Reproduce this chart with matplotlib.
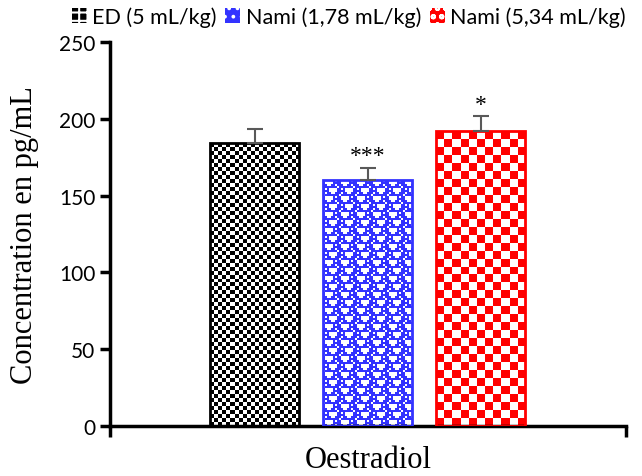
import numpy as np
import matplotlib
matplotlib.use('Agg')
import matplotlib.pyplot as plt
from matplotlib.patches import Patch

groups = ['ED (5 mL/kg)', 'Nami (1,78 mL/kg)', 'Nami (5,34 mL/kg)']
values = [184, 160, 192]
errors = [9, 8, 9.5]
stars = ['', '***', '*']
category = 'Oestradiol'
yticks = [0, 50, 100, 150, 200, 250]

colors = ['#000000', '#3333ff', '#ff0000']
cells = [4, 2, 8]   # pattern cell size in pixels

# blue "weave" tile, '#' = coloured
blue_tile = ["#....#.#",
             "#....###",
             "##..##.#",
             "#######.",
             "#.#....#",
             "###....#",
             "#.##..##",
             ".#######"]
blue_tile = np.array([[c == '#' for c in row] for row in blue_tile])


def pattern(i, nx, ny):
    if i == 1:
        reps = (ny // 8 + 1, nx // 8 + 1)
        return np.tile(blue_tile, reps)[:ny, :nx]
    yy, xx = np.mgrid[0:ny, 0:nx]
    return (xx + yy) % 2 == 0


fig = plt.figure(figsize=(6.42, 4.77), dpi=100)
ax = fig.add_axes([0.171, 0.105, 0.804, 0.805])

offsets = [-0.219, 0, 0.219]
width = 0.1725
ax.set_xlim(-0.5, 0.5)
ax.set_ylim(0, 250)

for i in range(3):
    bar = ax.bar(offsets[i], values[i], width, facecolor='none',
                 edgecolor=colors[i], linewidth=2, zorder=3)[0]
    ax.errorbar(offsets[i], values[i], yerr=[[0], [errors[i]]], fmt='none',
                ecolor='#595959', elinewidth=1.5, capsize=6, capthick=1.5, zorder=4)
    x0, x1 = bar.get_x(), bar.get_x() + bar.get_width()
    p0 = ax.transData.transform((x0, 0))
    p1 = ax.transData.transform((x1, values[i]))
    nx = max(1, int(round((p1[0] - p0[0]) / cells[i])))
    ny = max(1, int(round((p1[1] - p0[1]) / cells[i])))
    mask = pattern(i, nx, ny)
    rgb = np.array(matplotlib.colors.to_rgb(colors[i]))
    img = np.ones((ny, nx, 3))
    img[mask] = rgb
    im = ax.imshow(img, extent=[x0, x1, 0, values[i]], interpolation='nearest',
                   aspect='auto', zorder=2)
    im.set_clip_path(bar)
    if stars[i]:
        ax.text(offsets[i], values[i] + errors[i] + 1, stars[i], ha='center', va='bottom',
                fontsize=17, family='Liberation Serif')

ax.set_yticks(yticks)
ax.set_yticklabels([str(t) for t in yticks], fontsize=15, family='Lato')
ax.set_xticks([-0.5, 0.5])
ax.set_xticklabels(['', ''])
ax.tick_params(axis='y', direction='out', length=7, width=2.5)
ax.tick_params(axis='x', direction='out', length=8, width=2.5)
for s in ['top', 'right']:
    ax.spines[s].set_visible(False)
for s in ['left', 'bottom']:
    ax.spines[s].set_linewidth(2.5)

ax.set_ylabel('Concentration en pg/mL', fontsize=22, family='Liberation Serif', labelpad=14)
ax.set_xlabel(category, fontsize=22, family='Liberation Serif', labelpad=2)

plt.rcParams['hatch.linewidth'] = 1.5
handles = [Patch(facecolor='black', edgecolor='white', hatch='++', lw=0),
           Patch(facecolor='#3333ff', edgecolor='white', hatch='..', lw=0),
           Patch(facecolor='#ff0000', edgecolor='white', hatch='oo', lw=0)]
fig.legend(handles, groups, loc='center', bbox_to_anchor=(0.543, 0.963), ncol=3,
           frameon=False, prop={'family': 'Lato', 'size': 15.5}, handlelength=0.7,
           handleheight=0.7, handletextpad=0.25, columnspacing=0.4)

fig.savefig('out.png', dpi=100)
